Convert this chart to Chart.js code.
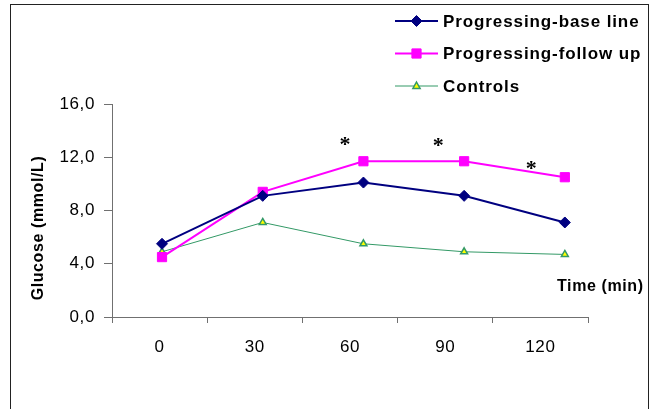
<!DOCTYPE html>
<html>
<head>
<meta charset="utf-8">
<script src="https://cdn.jsdelivr.net/npm/chart.js@4/dist/chart.umd.min.js"></script>
<style>
  body { margin: 0; background: #fff; }
  canvas { display: block; }
</style>
</head>
<body>
<canvas id="chart" width="652" height="409"></canvas>
<script>
// values
const times = [0, 30, 60, 90, 120]
const timeLabels = ["0", "30", "60", "90", "120"]
const baseLine = [5.5, 9.1, 10.1, 9.1, 7.1]
const followUp = [4.5, 9.4, 11.7, 11.7, 10.5]
const controls = [4.9, 7.1, 5.5, 4.9, 4.7]

// significance marks (time, glucose level)
const starTimes = [54.5, 82.3, 110]
const starLevels = [13.15, 13.1, 11.35]

const seriesNames = ["Progressing-base line", "Progressing-follow up", "Controls"]

function points(values) {
  return times.map((t, i) => ({ x: t, y: values[i] }))
}

function drawMarker(ctx, style, x, y, r, fill, stroke, lw) {
  ctx.save()
  ctx.beginPath()
  if (style === "rectRot") {
    ctx.moveTo(x, y - r)
    ctx.lineTo(x + r, y)
    ctx.lineTo(x, y + r)
    ctx.lineTo(x - r, y)
  } else if (style === "rect") {
    const s = r * Math.SQRT1_2
    ctx.rect(x - s, y - s, 2 * s, 2 * s)
  } else {
    ctx.moveTo(x, y - r)
    ctx.lineTo(x + r * 0.9, y + r * 0.6)
    ctx.lineTo(x - r * 0.9, y + r * 0.6)
  }
  ctx.closePath()
  ctx.fillStyle = fill
  ctx.fill()
  ctx.lineWidth = lw
  ctx.strokeStyle = stroke
  ctx.stroke()
  ctx.restore()
}

const spacing = {
  id: "spacing",
  beforeUpdate(chart) { chart.ctx.letterSpacing = "0.6px" },
  beforeDraw(chart) { chart.ctx.letterSpacing = "0.6px" },
}

const decorations = {
  id: "decorations",
  afterDraw(chart) {
    const ctx = chart.ctx
    ctx.save()

    // outer frame
    ctx.strokeStyle = "#222"
    ctx.lineWidth = 1
    ctx.strokeRect(10.5, 4.5, 638, 430)

    // legend
    ctx.font = "bold 17px 'Liberation Sans', Arial, sans-serif"
    ctx.letterSpacing = "0.9px"
    ctx.textBaseline = "middle"
    ctx.fillStyle = "#000"
    chart.data.datasets.forEach((ds, i) => {
      const y = 21 + i * 32.5
      ctx.strokeStyle = ds.borderColor
      ctx.lineWidth = ds.borderWidth
      ctx.beginPath()
      ctx.moveTo(395, y)
      ctx.lineTo(438, y)
      ctx.stroke()
      drawMarker(ctx, ds.pointStyle, 416.5, y, ds.pointRadius, ds.pointBackgroundColor,
        ds.pointBorderColor, ds.pointBorderWidth)
      ctx.fillStyle = "#000"
      ctx.textAlign = "left"
      ctx.fillText(ds.label, 443, y + 1)
    })

    // axis titles
    ctx.font = "bold 16px 'Liberation Sans', Arial, sans-serif"
    ctx.letterSpacing = "0.6px"
    ctx.textAlign = "left"
    ctx.fillText("Time (min)", 557, 287)

    ctx.save()
    ctx.translate(39, 228)
    ctx.rotate(-Math.PI / 2)
    ctx.textAlign = "center"
    ctx.fillText("Glucose (mmol/L)", 0, 0)
    ctx.restore()

    // significance stars
    const xs = chart.scales.xd
    const ys = chart.scales.y
    ctx.font = "bold 22px 'Liberation Serif', 'Times New Roman', serif"
    ctx.letterSpacing = "0px"
    ctx.textAlign = "center"
    ctx.textBaseline = "alphabetic"
    const m = ctx.measureText("*")
    const shift = (m.actualBoundingBoxAscent - m.actualBoundingBoxDescent) / 2
    starTimes.forEach((t, i) => {
      ctx.fillText("*", xs.getPixelForValue(t), ys.getPixelForValue(starLevels[i]) + shift)
    })

    ctx.restore()
  }
}

const canvas = document.getElementById("chart")

new Chart(canvas, {
  type: "line",
  data: {
    labels: timeLabels,
    datasets: [
      {
        label: seriesNames[0],
        data: points(baseLine),
        xAxisID: "xd",
        borderColor: "#000080",
        borderWidth: 2,
        pointStyle: "rectRot",
        pointRadius: 5.5,
        pointBackgroundColor: "#000080",
        pointBorderColor: "#000080",
        pointBorderWidth: 1,
      },
      {
        label: seriesNames[1],
        data: points(followUp),
        xAxisID: "xd",
        borderColor: "#ff00ff",
        borderWidth: 2,
        pointStyle: "rect",
        pointRadius: 6.5,
        pointBackgroundColor: "#ff00ff",
        pointBorderColor: "#ff00ff",
        pointBorderWidth: 1,
      },
      {
        label: seriesNames[2],
        data: points(controls),
        xAxisID: "xd",
        borderColor: "#339966",
        borderWidth: 1,
        pointStyle: "triangle",
        pointRadius: 4,
        pointBackgroundColor: "#ffff00",
        pointBorderColor: "#339966",
        pointBorderWidth: 1.5,
      },
    ],
  },
  options: {
    responsive: false,
    animation: false,
    layout: {
      padding: { top: 104, right: 64, left: 0, bottom: 0 },
    },
    plugins: {
      legend: { display: false },
      tooltip: { enabled: false },
    },
    elements: {
      line: { tension: 0 },
    },
    scales: {
      xd: {
        type: "linear",
        display: false,
        min: -14.9,
        max: 126.9,
      },
      x: {
        type: "category",
        position: "bottom",
        offset: true,
        afterFit(scale) { scale.height = 92 },
        border: { display: true, color: "#707070", width: 1 },
        grid: {
          offset: true,
          drawOnChartArea: false,
          drawTicks: true,
          tickLength: 6,
          color: "#707070",
        },
        ticks: {
          color: "#000",
          padding: 14,
          font: { family: "'Liberation Sans', Arial, sans-serif", size: 17 },
        },
      },
      y: {
        min: 0,
        max: 16,
        afterFit(scale) { scale.width = 112 },
        border: { display: true, color: "#707070", width: 1 },
        grid: {
          drawOnChartArea: false,
          drawTicks: true,
          tickLength: 8,
          color: "#707070",
        },
        ticks: {
          stepSize: 4,
          color: "#000",
          padding: 9,
          font: { family: "'Liberation Sans', Arial, sans-serif", size: 17 },
          callback: (v) => v.toFixed(1).replace(".", ","),
        },
      },
    },
  },
  plugins: [spacing, decorations],
})
</script>
</body>
</html>
